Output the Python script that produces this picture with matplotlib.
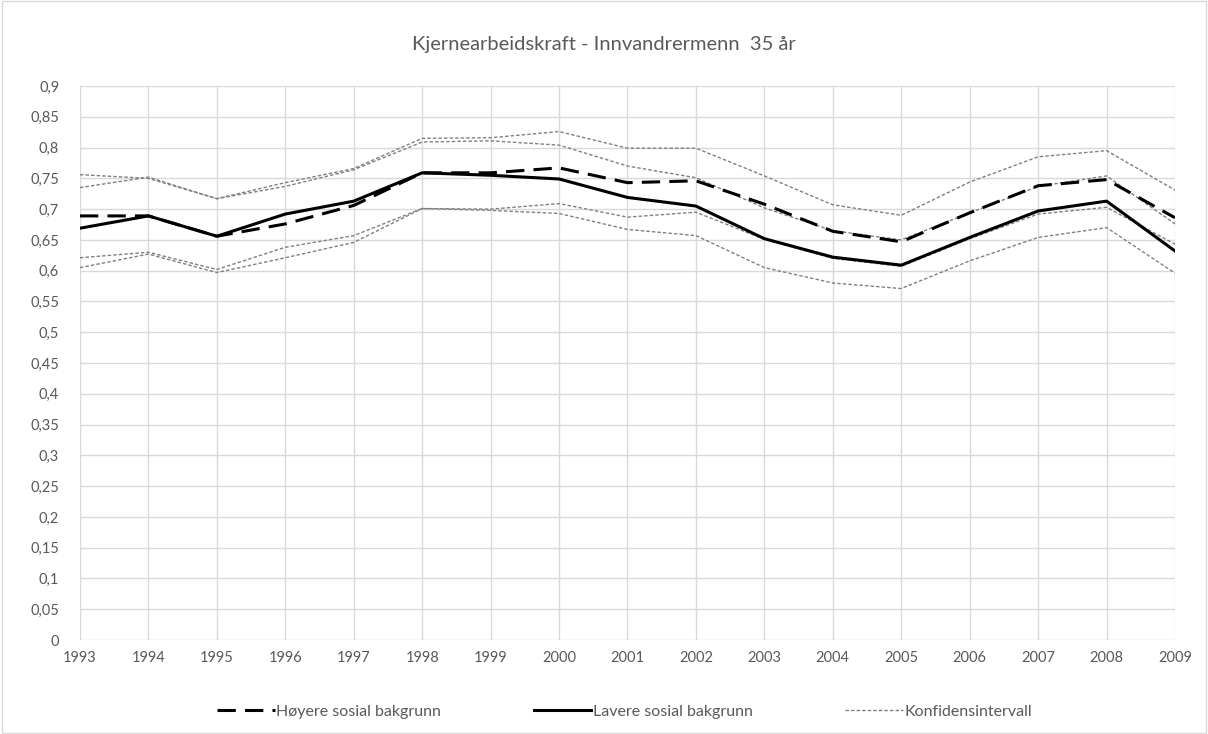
import numpy as np
import matplotlib.pyplot as plt
from matplotlib.patches import Rectangle
from matplotlib.lines import Line2D

plt.rcParams['font.family'] = ['Lato', 'DejaVu Sans']

years = list(range(1993, 2010))

# Høyere sosial bakgrunn (dashed)
hoyere = [0.689, 0.689, 0.656, 0.676, 0.706, 0.759, 0.759, 0.767, 0.743, 0.746,
          0.708, 0.664, 0.647, 0.694, 0.738, 0.748, 0.686]
# Lavere sosial bakgrunn (solid)
lavere = [0.669, 0.689, 0.656, 0.692, 0.713, 0.759, 0.755, 0.749, 0.719, 0.705,
          0.652, 0.622, 0.609, 0.654, 0.697, 0.713, 0.632]

# Konfidensintervall (4 thin dashed lines)
ci_upper_h = [0.735, 0.752, 0.717, 0.743, 0.766, 0.815, 0.816, 0.826, 0.799, 0.799,
              0.754, 0.707, 0.690, 0.744, 0.785, 0.795, 0.731]
ci_upper_l = [0.756, 0.750, 0.717, 0.737, 0.764, 0.809, 0.811, 0.804, 0.770, 0.751,
              0.702, 0.665, 0.650, 0.694, 0.737, 0.754, 0.676]
ci_lower_h = [0.621, 0.630, 0.602, 0.638, 0.657, 0.701, 0.700, 0.709, 0.687, 0.695,
              0.651, 0.620, 0.607, 0.652, 0.692, 0.703, 0.643]
ci_lower_l = [0.605, 0.627, 0.597, 0.621, 0.646, 0.701, 0.698, 0.693, 0.667, 0.657,
              0.605, 0.580, 0.571, 0.616, 0.654, 0.670, 0.596]

yticks = np.arange(0, 0.901, 0.05)

fig = plt.figure(figsize=(12.08, 7.34), dpi=100)
ax = fig.add_axes([0.0662, 0.128, 0.9065, 0.7548])

grid_c = '#d9d9d9'
ci_c = '#808080'
for ci in [ci_upper_h, ci_upper_l, ci_lower_h, ci_lower_l]:
    ax.plot(years, ci, color=ci_c, lw=1.0, dashes=(2.5, 1.5), zorder=2)

ax.plot(years, lavere, color='black', lw=2.2, zorder=3)
ax.plot(years, hoyere, color='black', lw=2.2, dashes=(6, 3), zorder=4)

ax.set_xlim(1993, 2009)
ax.set_ylim(0, 0.9)
ax.set_xticks(years)
ax.set_xticklabels([str(y) for y in years])
ax.set_yticks(yticks)
ax.set_yticklabels(['0' if v < 1e-9 else f'{v:.2f}'.rstrip('0').replace('.', ',') for v in yticks])
ax.tick_params(axis='x', length=0, labelsize=10.5, labelcolor='#595959', pad=8)
ax.tick_params(axis='y', length=0, labelsize=10.5, labelcolor='#595959', pad=15)
ax.grid(True, color=grid_c, lw=1)
ax.set_axisbelow(True)
for s in ax.spines.values():
    s.set_visible(False)

fig.text(0.5, 0.94, 'Kjernearbeidskraft - Innvandrermenn  35 år', ha='center', va='center',
         fontsize=14.5, color='#595959')

handles = [
    Line2D([], [], color='black', lw=2.2, dashes=(6, 3)),
    Line2D([], [], color='black', lw=2.2),
    Line2D([], [], color=ci_c, lw=1.0, dashes=(2.5, 1.5)),
]
labels = ['Høyere sosial bakgrunn', 'Lavere sosial bakgrunn', 'Konfidensintervall']
leg = fig.legend(handles, labels, loc='center', bbox_to_anchor=(0.517, 0.03), ncol=3,
                 frameon=False, fontsize=11.5, handlelength=3.6, handletextpad=0.1,
                 columnspacing=5.8)
for t in leg.get_texts():
    t.set_color('#595959')

fig.patches.append(Rectangle((0.002, 0.002), 0.996, 0.996, transform=fig.transFigure,
                             fill=False, edgecolor='#d9d9d9', lw=1))

fig.savefig('out.png', dpi=100)
